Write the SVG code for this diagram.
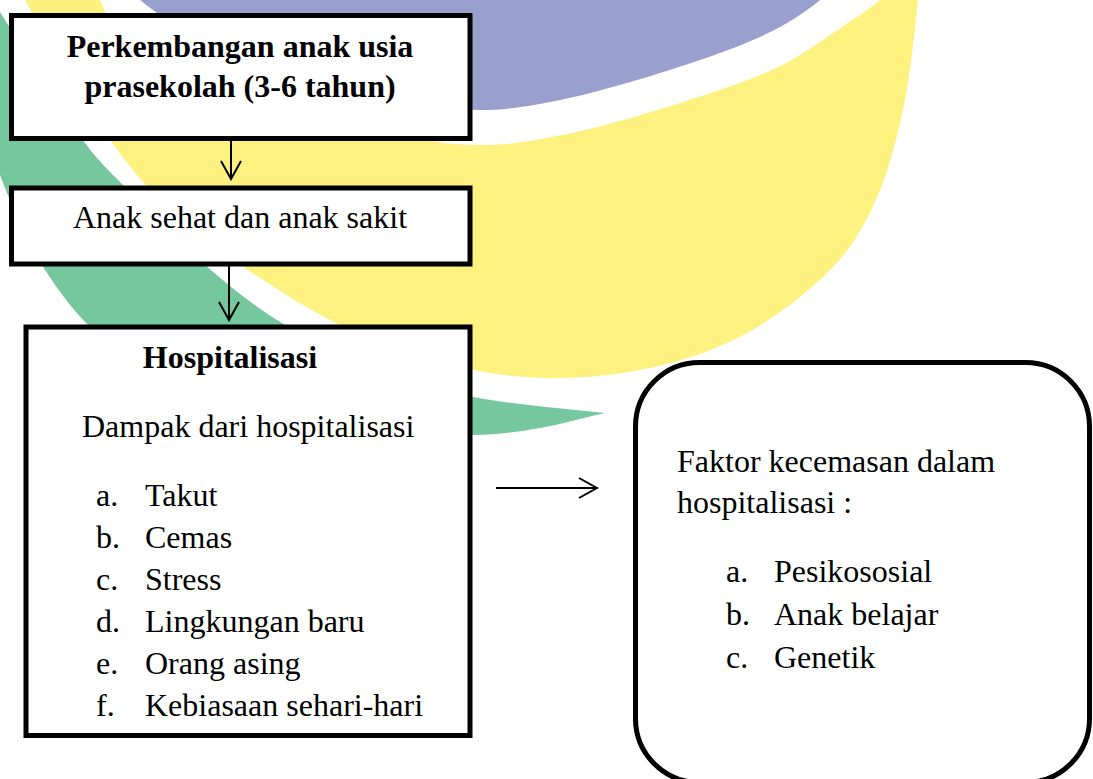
<svg xmlns="http://www.w3.org/2000/svg" width="1093" height="779" viewBox="0 0 1093 779">
<style>
.box{fill:#ffffff;stroke:#000000;stroke-width:5}
.t{font-family:"Liberation Serif","Times New Roman",serif;font-size:32px;fill:#000000}
.b{font-weight:bold}
.c{text-anchor:middle}
.conn{fill:none;stroke:#000000;stroke-width:2}
</style>
<defs>
<marker id="arr" viewBox="-20 -12 22 24" refX="0" refY="0" markerWidth="22" markerHeight="24" markerUnits="userSpaceOnUse" orient="auto">
<path d="M-18,-10 L0,0 L-18,10" fill="none" stroke="#000000" stroke-width="2"/>
</marker>
</defs>
<rect x="0" y="0" width="1093" height="779" fill="#ffffff"/>
<g id="watermark">
<path fill="#9aa0cd" d="M140,-5 L140,0 C153.3,11.2 173.3,24.8 200,37 C226.7,49.2 266.7,62.5 300,73 C333.3,83.5 370,93.8 400,100 C430,106.2 453.3,110 480,110 C506.7,110 530,106.2 560,100 C590,93.8 626.7,83.5 660,73 C693.3,62.5 733.3,49.2 760,37 C786.7,24.8 806.7,11.2 820,0 L820,-5 Z"/>
<path fill="#fdf180" d="M25,-5 L25,0 C32.5,14.2 50.8,46.7 65,70 C79.2,93.3 93.3,117.5 110,140 C126.7,162.5 142.5,183.7 165,205 C187.5,226.3 215.8,248 245,268 C274.2,288 307.5,309.3 340,325 C372.5,340.7 406.7,353.2 440,362 C473.3,370.8 505,377 540,378 C575,379 615.5,375.5 650,368 C684.5,360.5 716.5,349.8 747,333 C777.5,316.2 811.2,290 833,267 C854.8,244 866,222.8 878,195 C890,167.2 898.3,132.5 905,100 C911.7,67.5 915.7,19.2 918,0 L918,-5 L880,-5 L880,0 C870.3,7.8 859.7,15.5 842,27 C824.3,38.5 802.7,55.8 774,69 C745.3,82.2 704.5,95.2 670,106 C635.5,116.8 598.7,127.5 567,134 C535.3,140.5 509,145 480,145 C451,145 424.7,140.5 393,134 C361.3,127.5 324.5,116.8 290,106 C255.5,95.2 214.7,82.2 186,69 C157.3,55.8 132.3,38.5 118,27 C103.7,15.5 104.7,7.8 100,0 L100,-5 Z"/>
<path fill="#75c79d" d="M0,12 C13.3,33 25.8,53.2 40,75 C54.2,96.8 70.8,124.3 85,143 C99.2,161.7 105,166.7 125,187 C145,207.3 178.3,242 205,265 C231.7,288 255.8,307.5 285,325 C314.2,342.5 348.7,358 380,370 C411.3,382 435.5,389.8 473,397 C510.5,404.2 567.2,409.2 605,413 C583.3,417.7 562,424.3 540,428 C518,431.7 499.7,434.7 473,435 C446.3,435.3 412.2,434.2 380,430 C347.8,425.8 313.3,419.2 280,410 C246.7,400.8 210,387.5 180,375 C150,362.5 122.5,352.5 100,335 C77.5,317.5 60,292.5 45,270 C30,247.5 20.8,225 10,200 C-0.8,175 -10,146.7 -20,120 L-50,40 L-70,-10 L-60,-20 Z"/>
</g>
<g id="connectors">
<path class="conn" d="M231,104 L231,179" marker-end="url(#arr)"/>
<path class="conn" d="M229,245 L229,320" marker-end="url(#arr)"/>
<path class="conn" d="M496,488 L597,488" marker-end="url(#arr)"/>
</g>
<g id="node-perkembangan">
<rect class="box" x="11.5" y="15.5" width="458.5" height="123"/>
<text class="t b c" x="240" y="57">Perkembangan anak usia</text>
<text class="t b c" x="240" y="97">prasekolah (3-6 tahun)</text>
</g>
<g id="node-anak">
<rect class="box" x="11.5" y="188" width="458.5" height="76"/>
<text class="t c" x="240" y="228">Anak sehat dan anak sakit</text>
</g>
<g id="node-hospitalisasi">
<rect class="box" x="26" y="327" width="444" height="408.5"/>
<text class="t b c" x="230" y="368">Hospitalisasi</text>
<text class="t" x="82" y="437">Dampak dari hospitalisasi</text>
<text class="t" x="96" y="506">a.</text><text class="t" x="145" y="506">Takut</text>
<text class="t" x="96" y="548">b.</text><text class="t" x="145" y="548">Cemas</text>
<text class="t" x="96" y="590">c.</text><text class="t" x="145" y="590">Stress</text>
<text class="t" x="96" y="632">d.</text><text class="t" x="145" y="632">Lingkungan baru</text>
<text class="t" x="96" y="674">e.</text><text class="t" x="145" y="674">Orang asing</text>
<text class="t" x="96" y="716">f.</text><text class="t" x="145" y="716">Kebiasaan sehari-hari</text>
</g>
<g id="node-faktor">
<rect class="box" x="635.5" y="362.5" width="454" height="420" rx="64" ry="64"/>
<text class="t" x="677" y="472">Faktor kecemasan dalam</text>
<text class="t" x="677" y="513">hospitalisasi :</text>
<text class="t" x="726" y="582">a.</text><text class="t" x="774" y="582">Pesikososial</text>
<text class="t" x="726" y="625">b.</text><text class="t" x="774" y="625">Anak belajar</text>
<text class="t" x="726" y="668">c.</text><text class="t" x="774" y="668">Genetik</text>
</g>
</svg>
